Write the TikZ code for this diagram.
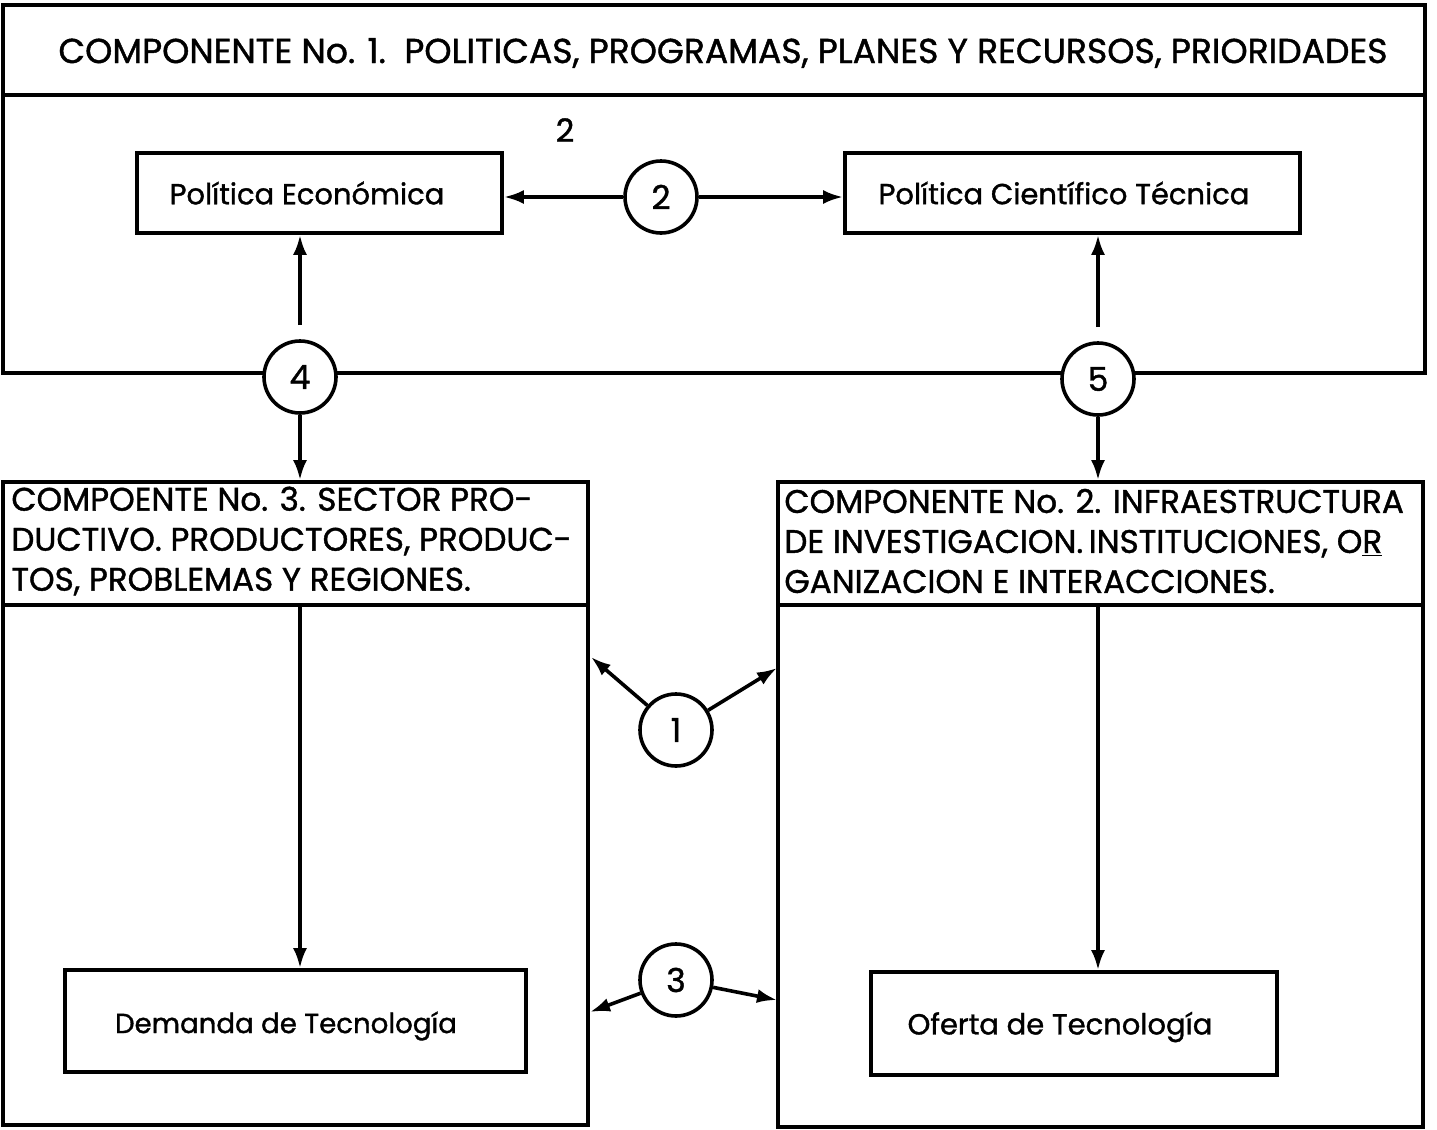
\documentclass[tikz,border=0pt]{standalone}
\usepackage{fontspec}
\setmainfont{Poppins}[FakeBold=1.2]
\usetikzlibrary{arrows.meta}
\begin{document}
\begin{tikzpicture}[x=0.5pt,y=-0.5pt,
  box/.style={draw, line width=1.9pt, inner sep=0pt, rectangle},
  circ/.style={draw, circle, line width=1.8pt, fill=white, minimum size=36pt, inner sep=0pt, font=\fontsize{16.5}{18}\selectfont},
  arr/.style={line width=1.8pt, -{Latex[length=10pt,width=7pt]}},
  head/.style={font=\fontsize{16.3}{20}\selectfont, align=left, anchor=west, inner sep=0pt},
  lbl/.style={font=\fontsize{14.5}{18}\selectfont, inner sep=0pt}]
\useasboundingbox (0,0) rectangle (1437,1130);
% component 1
\node[box, minimum width=711pt, minimum height=184pt] (comp1) at (714,189) {};
\node[box, minimum width=711pt, minimum height=45pt] (comp1h) at (714,50) {};
\node[font=\fontsize{17.3}{20}\selectfont, inner sep=0pt] (t1) at (723,53)
  {COMPONENTE No. 1.\ \ POLITICAS, PROGRAMAS, PLANES Y RECURSOS, PRIORIDADES};
\node[font=\fontsize{16}{18}\selectfont, inner sep=0pt] (lab2) at (565,130) {2};
\node[box, minimum width=182.5pt, minimum height=40pt] (pe) at (319.5,193) {};
\node[lbl] (pet) at (307,193) {Política Económica};
\node[box, minimum width=227.5pt, minimum height=40pt] (pct) at (1072.5,193) {};
\node[lbl] (pctt) at (1064,193) {Política Científico Técnica};
\node[circ] (c2) at (661,197) {2};
\node[circ] (c4) at (300,377) {4};
\node[circ] (c5) at (1098,379) {5};
% component 3
\node[box, minimum width=292.5pt, minimum height=321.5pt] (comp3) at (295.5,803.5) {};
\node[box, minimum width=292.5pt, minimum height=61.5pt] (comp3h) at (295.5,543.5) {};
\node[head] (t3) at (11,541) {COMPOENTE No. 3. SECTOR PRO-\\DUCTIVO. PRODUCTORES, PRODUC-\\TOS, PROBLEMAS Y REGIONES.};
% component 2
\node[box, minimum width=322.5pt, minimum height=322.5pt] (comp2) at (1100.5,804.5) {};
\node[box, minimum width=322.5pt, minimum height=61.5pt] (comp2h) at (1100.5,543.5) {};
\node[head] (t2) at (784,541) {COMPONENTE No. 2. INFRAESTRUCTURA\\DE INVESTIGACION.\,INSTITUCIONES, O\underline{R}\\GANIZACION E INTERACCIONES.};
% inner boxes
\node[box, minimum width=230.5pt, minimum height=51pt] (dem) at (295.5,1021) {};
\node[lbl, font=\fontsize{13.8}{18}\selectfont] (demt) at (286,1026) {Demanda de Tecnología};
\node[box, minimum width=203pt, minimum height=51.5pt] (ofe) at (1074,1023.5) {};
\node[lbl] (ofet) at (1060,1027) {Oferta de Tecnología};
\node[circ] (c1) at (676,730) {1};
\node[circ] (c3) at (676,980) {3};
\coordinate (t1a) at (591,657);
\coordinate (t1b) at (777,668);
\coordinate (t3a) at (590,1012);
\coordinate (t3b) at (777,1000);
% connectors
\draw[arr] (c2.west) -- (pe.east |- c2.west);
\draw[arr] (c2.east) -- (pct.west |- c2.east);
\draw[arr, shorten <=7pt] (c4.north) -- (c4.north |- pe.south);
\draw[arr, shorten <=7pt] (c5.north) -- (c5.north |- pct.south);
\draw[arr] (c4.south) -- (c4.south |- comp3.north);
\draw[arr] (c5.south) -- (c5.south |- comp2.north);
\draw[arr] (comp3h.south -| c4) -- (dem.north -| c4);
\draw[arr] (comp2h.south -| c5) -- (ofe.north -| c5);
\draw[arr] (c1) -- (t1a);
\draw[arr] (c1) -- (t1b);
\draw[arr] (c3) -- (t3a);
\draw[arr] (c3) -- (t3b);
\end{tikzpicture}
\end{document}
